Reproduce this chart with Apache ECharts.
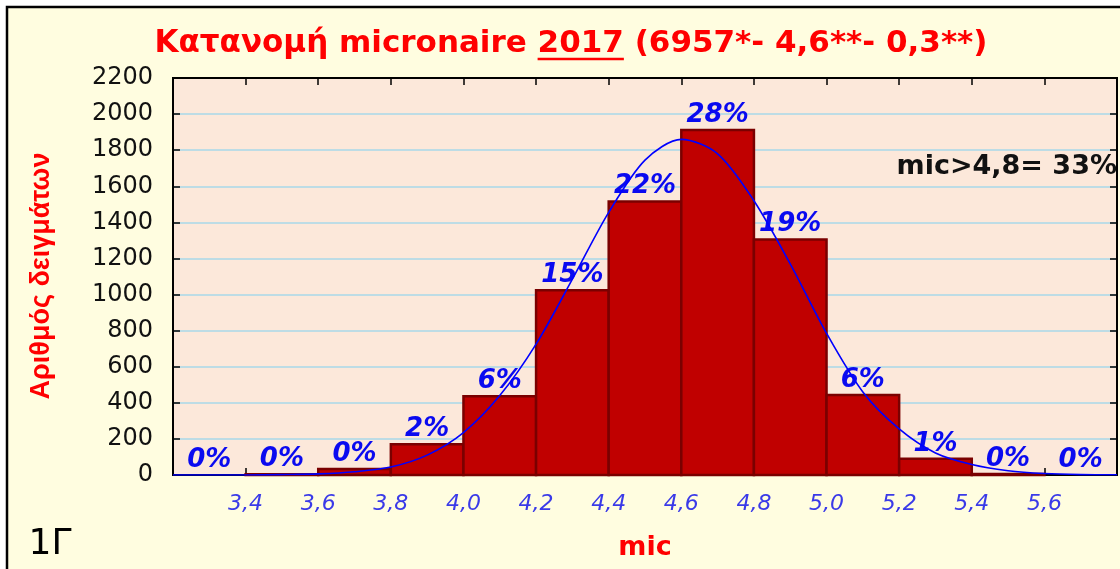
<!DOCTYPE html>
<html>
<head>
<meta charset="utf-8">
<script src="https://cdn.jsdelivr.net/npm/echarts@6/dist/echarts.min.js"></script>
<style>
  html, body { margin: 0; padding: 0; background: #fff; }
  #chart { width: 1120px; height: 569px; }
</style>
</head>
<body>
<div id="chart"></div>
<script>
  // histogram bins (lower edge), bin width 0.2
  const binStarts = [3.2, 3.4, 3.6, 3.8, 4.0, 4.2, 4.4, 4.6, 4.8, 5.0, 5.2, 5.4, 5.6];
  const binWidth = 0.2;
  const counts = [0, 4, 33, 171, 437, 1024, 1515, 1912, 1305, 443, 90, 5, 0];
  const pctLabels = ['0%', '0%', '0%', '2%', '6%', '15%', '22%', '28%', '19%', '6%', '1%', '0%', '0%'];

  // fitted curve
  const curveX = [3.2, 3.3, 3.4, 3.5, 3.6, 3.7, 3.8, 3.9, 4.0, 4.1, 4.2, 4.3, 4.4, 4.5,
                  4.6, 4.7, 4.8, 4.9, 5.0, 5.1, 5.2, 5.3, 5.4, 5.5, 5.6, 5.7, 5.8];
  const curveY = [0, 0, 0, 2, 6, 18, 44, 110, 235, 440, 725, 1085, 1455, 1745,
                  1860, 1780, 1520, 1170, 785, 460, 255, 122, 58, 24, 8, 2, 1];

  const yTicks = { min: 0, max: 2200, step: 200 };

  const titleFont = 'bold 31px "DejaVu Sans"';
  const titleA = 'Κατανομή micronaire ';
  const titleB = '2017';
  const titleC = ' (6957*- 4,6**- 0,3**)';
  const titleX = 571, titleY = 44;

  // measure title parts for the underline under 2017
  const ctx = document.createElement('canvas').getContext('2d');
  ctx.font = titleFont;
  const wAll = ctx.measureText(titleA + titleB + titleC).width;
  const wA = ctx.measureText(titleA).width;
  const wB = ctx.measureText(titleB).width;
  const ulX = titleX - wAll / 2 + wA;

  const myChart = echarts.init(document.getElementById('chart'));

  const tickStyle = { show: true, inside: true, length: 7, lineStyle: { color: '#000', width: 1.5 } };

  const option = {
    animation: false,
    backgroundColor: '#ffffff',
    graphic: [
      {
        type: 'rect', z: -100, silent: true,
        shape: { x: 7, y: 7, width: 1150, height: 600 },
        style: { fill: '#FFFDE0', stroke: '#000', lineWidth: 2.5 }
      },
      {
        type: 'text', x: titleX, y: titleY,
        style: {
          text: titleA + titleB + titleC,
          font: titleFont, fill: '#FF0000',
          align: 'center', verticalAlign: 'middle'
        }
      },
      {
        type: 'line',
        shape: { x1: ulX, y1: titleY + 15, x2: ulX + wB, y2: titleY + 15 },
        style: { stroke: '#FF0000', lineWidth: 2.5 }
      },
      {
        type: 'text', x: 42, y: 276, rotation: Math.PI / 2,
        style: {
          text: 'Αριθμός δειγμάτων',
          font: 'bold 27px "Liberation Sans"', fill: '#FF0000',
          align: 'center', verticalAlign: 'middle'
        }
      },
      {
        type: 'text', x: 645, y: 548,
        style: {
          text: 'mic', font: 'bold 27px "DejaVu Sans"', fill: '#FF0000',
          align: 'center', verticalAlign: 'middle'
        }
      },
      {
        type: 'text', x: 50, y: 545,
        style: {
          text: '1Γ', font: '36px "DejaVu Sans"', fill: '#000',
          align: 'center', verticalAlign: 'middle'
        }
      },
      {
        type: 'text', x: 1117, y: 167,
        style: {
          text: 'mic>4,8= 33%', font: 'bold 27px "DejaVu Sans"', fill: '#111',
          align: 'right', verticalAlign: 'middle'
        }
      }
    ],
    grid: {
      left: 173, top: 78, right: 3, bottom: 94,
      show: true, backgroundColor: '#FCE8DA',
      borderColor: '#000', borderWidth: 2
    },
    xAxis: [{
      type: 'value', min: 3.2, max: 5.8, interval: 0.2, position: 'bottom',
      axisLine: { show: true, onZero: false, lineStyle: { color: '#000', width: 2 } },
      axisTick: tickStyle,
      splitLine: { show: false },
      axisLabel: {
        margin: 18, showMinLabel: false, showMaxLabel: false,
        fontFamily: 'DejaVu Sans', fontStyle: 'italic', fontWeight: 200,
        fontSize: 22, color: '#3A3AE8',
        formatter: function (v) { return v.toFixed(1).replace('.', ','); }
      }
    }, {
      type: 'value', min: 3.2, max: 5.8, interval: 0.2, position: 'top',
      axisLine: { show: true, onZero: false, lineStyle: { color: '#000', width: 2 } },
      axisTick: tickStyle, axisLabel: { show: false }, splitLine: { show: false }
    }],
    yAxis: [{
      type: 'value', min: yTicks.min, max: yTicks.max, interval: yTicks.step,
      axisLine: { show: true, lineStyle: { color: '#000', width: 2 } },
      axisTick: tickStyle,
      splitLine: { show: true, lineStyle: { color: '#A9D9E8', width: 1.5 } },
      axisLabel: {
        margin: 20, fontFamily: 'DejaVu Sans', fontSize: 24, color: '#111',
        formatter: function (v) { return String(v); }
      }
    }, {
      type: 'value', min: yTicks.min, max: yTicks.max, interval: yTicks.step, position: 'right',
      axisLine: { show: true, lineStyle: { color: '#000', width: 2 } },
      axisTick: tickStyle, axisLabel: { show: false }, splitLine: { show: false }
    }],
    series: [{
      name: 'hist',
      type: 'custom',
      xAxisIndex: 0, yAxisIndex: 0,
      data: binStarts.map(function (s, i) { return [s, s + binWidth, counts[i]]; }),
      encode: { x: [0, 1], y: 2 },
      renderItem: function (params, api) {
        const x0 = api.value(0), x1 = api.value(1), v = api.value(2);
        const p0 = api.coord([x0, v]);
        const p1 = api.coord([x1, 0]);
        const children = [];
        if (v > 0) {
          children.push({
            type: 'rect',
            shape: { x: p0[0], y: p0[1], width: p1[0] - p0[0], height: p1[1] - p0[1] },
            style: { fill: '#C00000', stroke: '#7A0000', lineWidth: 2.5 }
          });
        }
        children.push({
          type: 'text',
          x: (p0[0] + p1[0]) / 2, y: p0[1] - 2,
          style: {
            text: pctLabels[params.dataIndex],
            font: 'italic bold 26px "DejaVu Sans"', fill: '#0A0AF0',
            align: 'center', verticalAlign: 'bottom'
          }
        });
        return { type: 'group', children: children };
      }
    }, {
      name: 'curve',
      type: 'line',
      xAxisIndex: 0, yAxisIndex: 0,
      smooth: 0.3, symbol: 'none',
      lineStyle: { color: '#0000FF', width: 1.6 },
      data: curveX.map(function (x, i) { return [x, curveY[i]]; })
    }]
  };

  myChart.setOption(option);
</script>
</body>
</html>
